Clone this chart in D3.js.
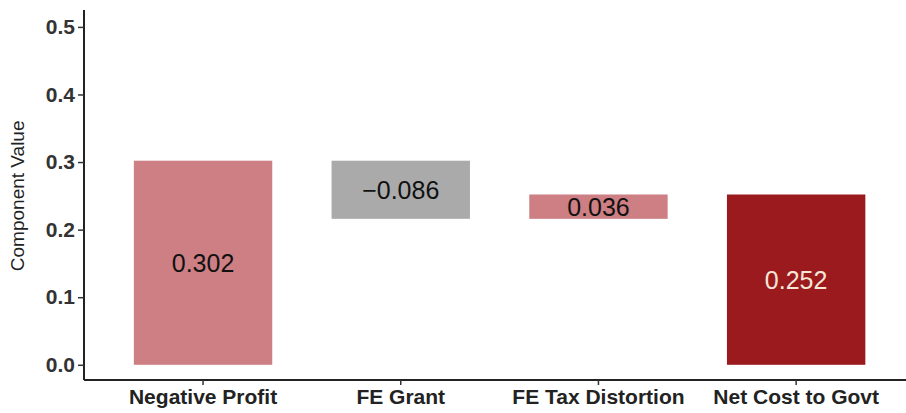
<!DOCTYPE html>
<html><head><meta charset="utf-8">
<script src="https://cdn.jsdelivr.net/npm/d3@7"></script>
<style>body{margin:0;background:#fff}svg{display:block}</style>
</head><body>
<svg id="c" width="906" height="413"></svg>
<script>
const categories = ["Negative Profit", "FE Grant", "FE Tax Distortion", "Net Cost to Govt"];
const values = [0.302, -0.086, 0.036, 0.252];
const labels = ["0.302", "\u22120.086", "0.036", "0.252"];
const isTotal = [false, false, false, true];
const yTicks = [0.0, 0.1, 0.2, 0.3, 0.4, 0.5];
const fills = ["#cd7f83", "#aaaaaa", "#cd7f83", "#9b1a1e"];
const textColors = ["#111", "#111", "#111", "#f6e7d6"];

let cum = 0;
const bars = categories.map((c, i) => {
  let start, end;
  if (isTotal[i]) { start = 0; end = values[i]; cum = values[i]; }
  else { start = cum; end = cum + values[i]; cum = end; }
  return {c, start, end, label: labels[i], fill: fills[i], tc: textColors[i]};
});

const FONT = "Liberation Sans, Arial, sans-serif";
const svg = d3.select("#c");
const y = d3.scaleLinear().domain([-0.0225, 0.525]).range([380, 10]);
const x = d3.scaleBand().domain(categories).range([104.2, 895]).padding(0);
const bw = x.bandwidth() * 0.7;

svg.selectAll("rect.bar").data(bars).enter().append("rect")
  .attr("x", d => x(d.c) + x.bandwidth()/2 - bw/2)
  .attr("width", bw)
  .attr("y", d => y(Math.max(d.start, d.end)))
  .attr("height", d => Math.abs(y(d.start) - y(d.end)))
  .attr("fill", d => d.fill);

svg.selectAll("text.val").data(bars).enter().append("text")
  .attr("x", d => x(d.c) + x.bandwidth()/2)
  .attr("y", d => y((d.start + d.end)/2))
  .attr("dy", "0.36em")
  .attr("text-anchor", "middle")
  .attr("font-family", FONT)
  .attr("font-size", 25)
  .attr("fill", d => d.tc)
  .text(d => d.label);

const ya = svg.append("g").attr("transform", "translate(84,0)")
  .call(d3.axisLeft(y).tickValues(yTicks).tickFormat(d3.format(".1f")).tickSize(6).tickPadding(3));
ya.select(".domain").attr("stroke", "#222").attr("stroke-width", 2).attr("d", `M0,${y(-0.0225)}V${y(0.525)}`);
ya.selectAll(".tick line").attr("stroke", "#333").attr("stroke-width", 1.5);
ya.selectAll(".tick text").attr("font-family", FONT)
  .attr("font-size", 21).attr("font-weight", "bold").attr("fill", "#333");

const xa = svg.append("g").attr("transform", `translate(0,${y(-0.0225)})`)
  .call(d3.axisBottom(x).tickSize(5).tickPadding(4));
xa.select(".domain").attr("stroke", "#222").attr("stroke-width", 2).attr("d", "M84,0H906");
xa.selectAll(".tick line").attr("stroke", "#333").attr("stroke-width", 1.5);
xa.selectAll(".tick text").attr("font-family", FONT)
  .attr("font-size", 21).attr("font-weight", "bold").attr("fill", "#222");

svg.append("text")
  .attr("transform", `translate(24,${y(0.25)}) rotate(-90)`)
  .attr("text-anchor", "middle")
  .attr("font-family", FONT)
  .attr("font-size", 19).attr("fill", "#222")
  .text("Component Value");
</script>
</body></html>
